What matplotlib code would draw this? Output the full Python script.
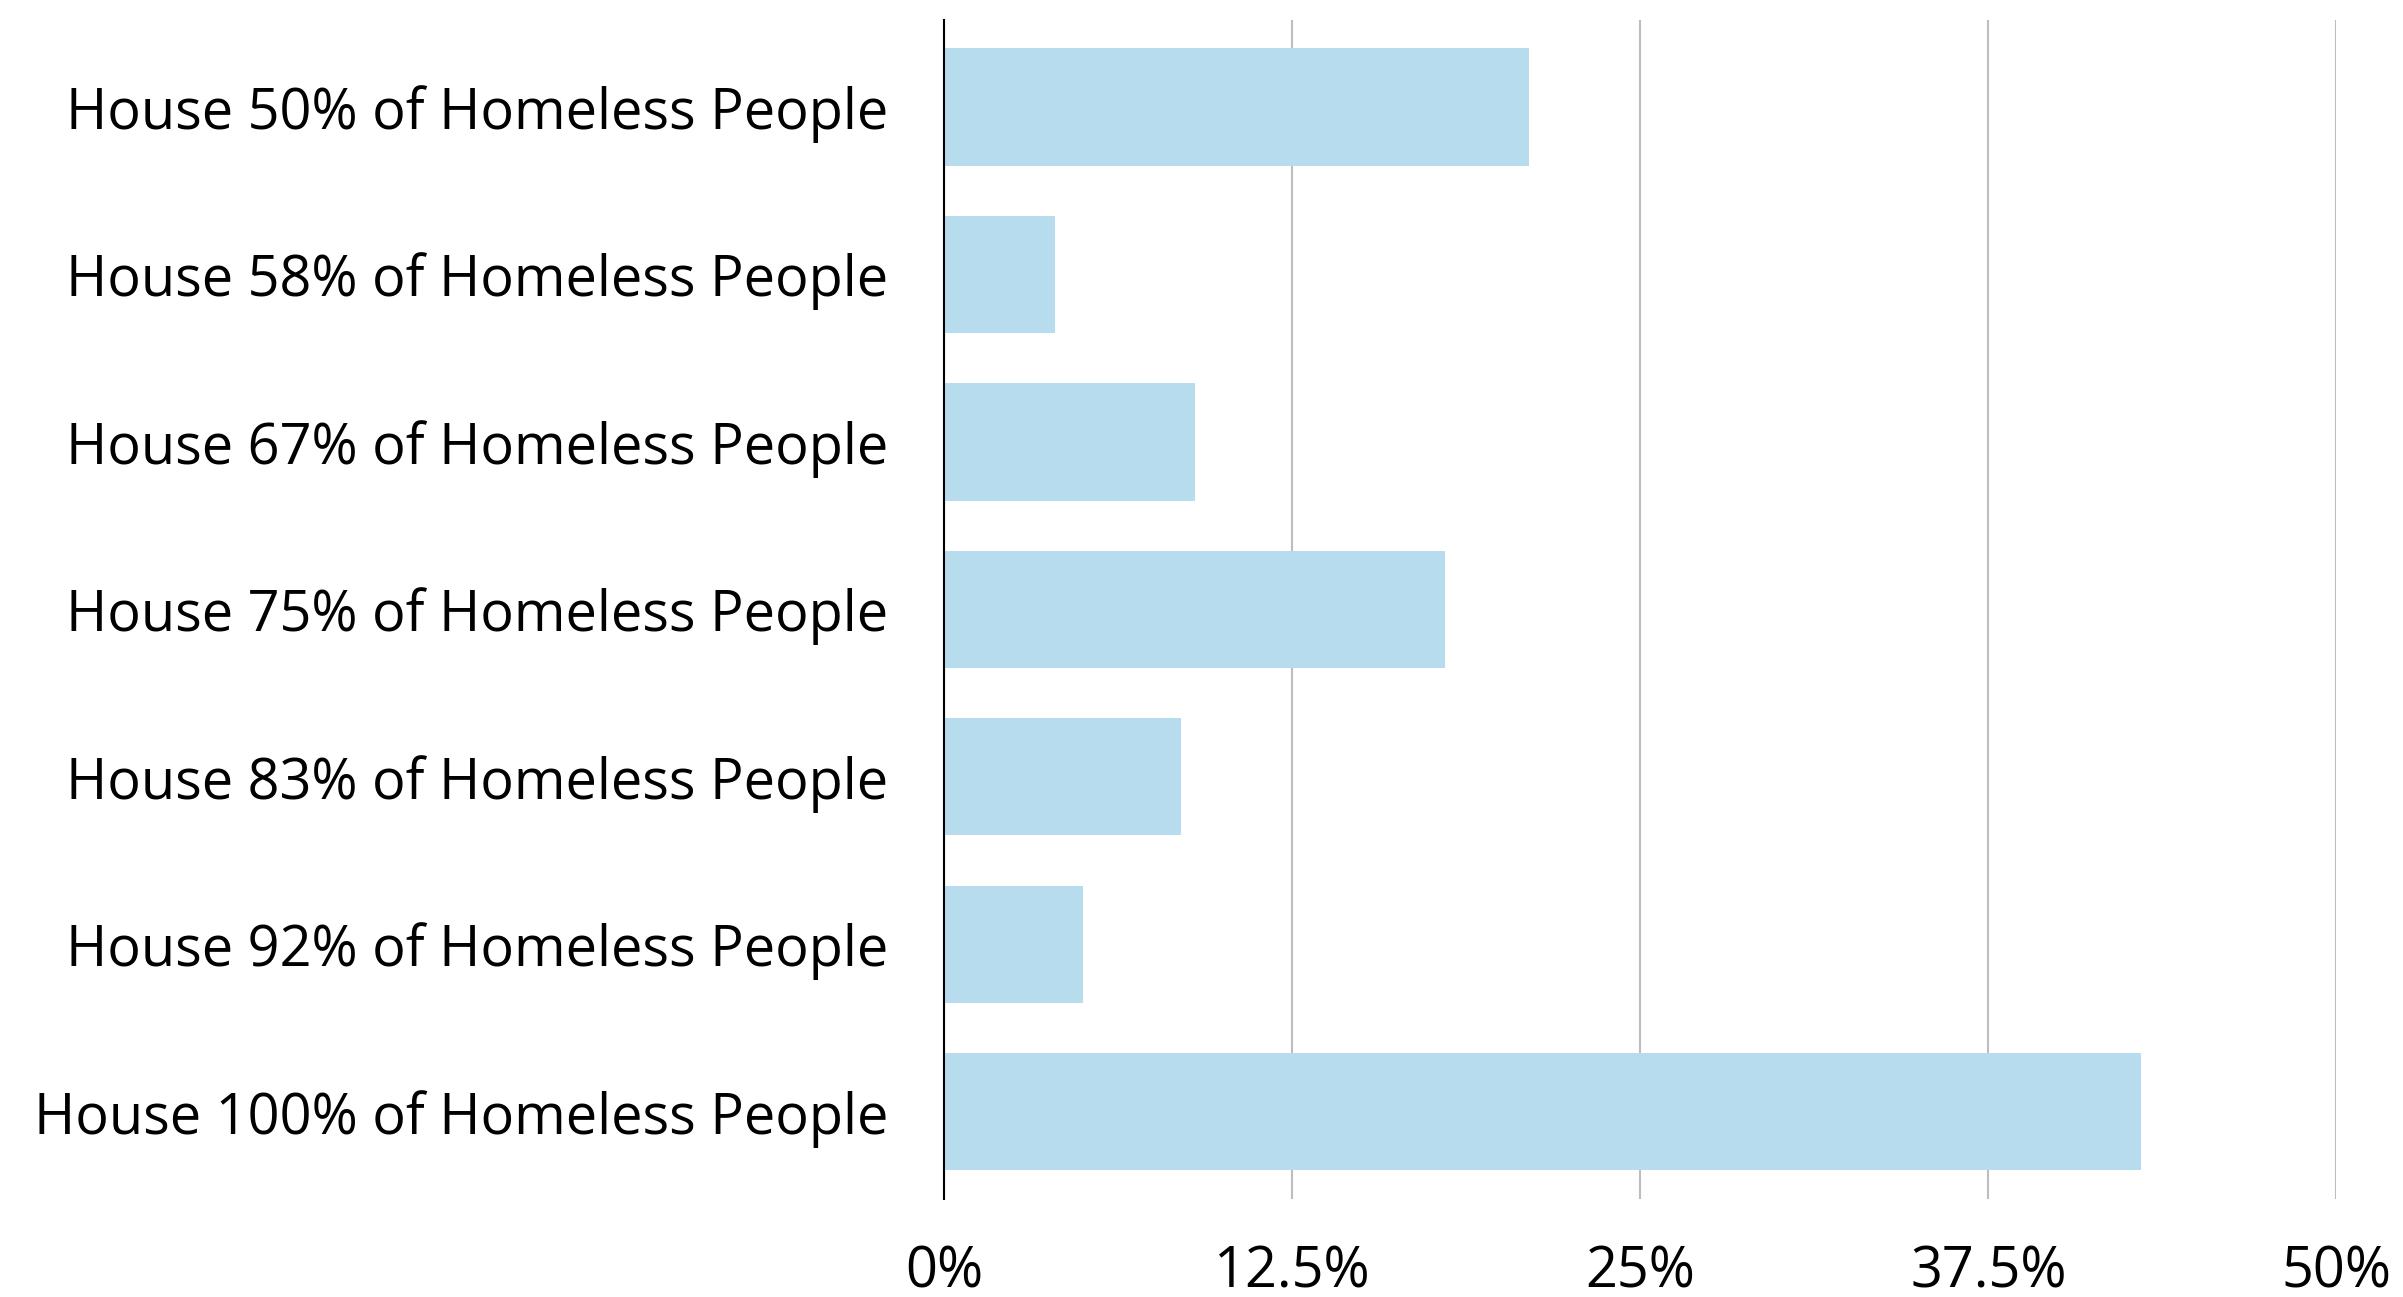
import matplotlib.pyplot as plt
from matplotlib.ticker import FuncFormatter

plt.rcParams['font.family'] = ['Open Sans', 'DejaVu Sans']

labels = ['House 50% of Homeless People', 'House 58% of Homeless People',
          'House 67% of Homeless People', 'House 75% of Homeless People',
          'House 83% of Homeless People', 'House 92% of Homeless People',
          'House 100% of Homeless People']
shares = [21, 4, 9, 18, 8.5, 5, 43]
xticks = [0, 12.5, 25, 37.5, 50]

fig = plt.figure(figsize=[24.03, 12.97], dpi=100)
ax = fig.add_axes([0.3928, 0.0758, 0.5795, 0.9088])

ax.barh(range(len(labels)), shares, height=0.7, color='#b6dcee', zorder=2)

ax.set_ylim(len(labels) - 0.48, -0.52)
ax.set_yticks(range(len(labels)))
ax.set_yticklabels(labels)

ax.set_xlim(0, 50)
ax.set_xticks(xticks)
ax.xaxis.set_major_formatter(FuncFormatter(lambda v, p: f'{v:g}%'))

# grid lines only, no ticks
ax.grid(axis='x', color='#bdbdbd', linewidth=1.5, zorder=1)
ax.tick_params(axis='both', length=0, labelsize=40.2, colors='black')
ax.tick_params(axis='x', pad=33)
ax.tick_params(axis='y', pad=40)

for s in ['top', 'right', 'bottom']:
    ax.spines[s].set_visible(False)
ax.spines['left'].set_color('black')
ax.spines['left'].set_linewidth(1.5)
ax.spines['left'].set_zorder(3)

plt.savefig('out.png', dpi=100)
